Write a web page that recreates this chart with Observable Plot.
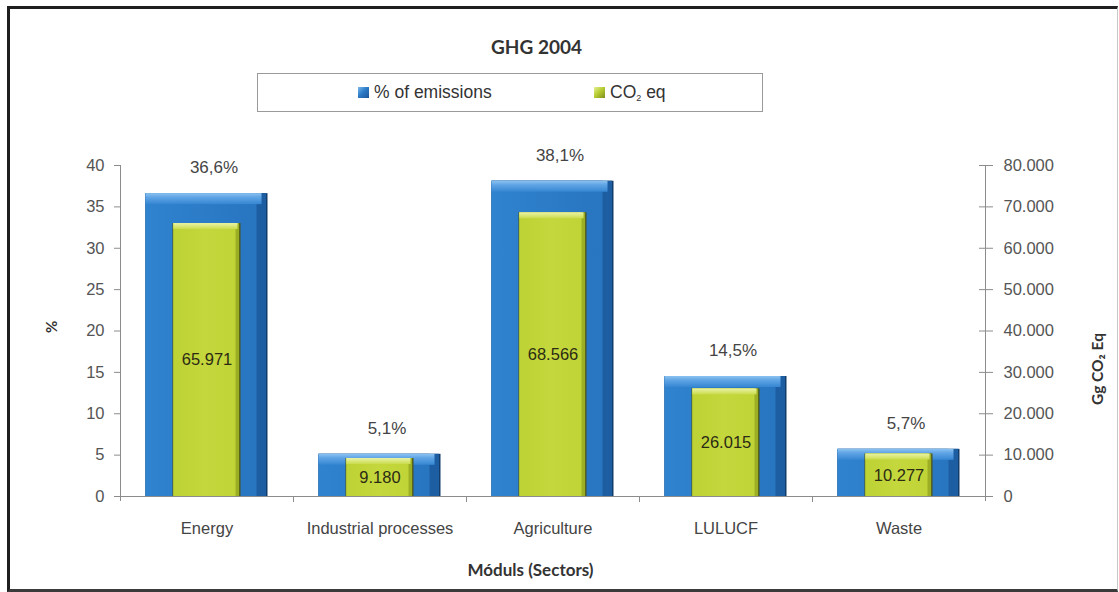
<!DOCTYPE html>
<html><head><meta charset="utf-8">
<script src="https://cdn.jsdelivr.net/npm/d3@7"></script>
<script src="https://cdn.jsdelivr.net/npm/@observablehq/plot@0.6"></script>
<style>
html,body{margin:0;padding:0;background:#fff;}
#wrap{position:relative;width:1119px;height:592px;overflow:hidden;background:#fff;}
#wrap svg{position:absolute;left:0;top:0;}
#frame{position:absolute;left:7px;top:6px;width:1111px;height:586px;box-sizing:border-box;border-left:3px solid #1f1f1f;border-top:3px solid #1f1f1f;border-bottom:3px solid #3a3a3a;border-right:1px solid #c8c8c8;pointer-events:none;}
#legend{position:absolute;left:257px;top:73px;width:506px;height:39px;box-sizing:border-box;border:1px solid #9a9a9a;background:#fff;font-family:"Liberation Sans",Arial,sans-serif;font-size:17.5px;color:#333;}
.item{position:absolute;top:0;height:37px;display:flex;align-items:center;white-space:nowrap;}
.sw{width:11px;height:11px;margin-right:5px;box-sizing:border-box;}
sub{font-size:9px;vertical-align:-3px;}
</style></head>
<body>
<div id="wrap">
  <div id="legend"></div>
  <div id="frame"></div>
</div>
<script>
// ---- data ----
const sectors = ["Energy", "Industrial processes", "Agriculture", "LULUCF", "Waste"];
const pctEmissions = [36.6, 5.1, 38.1, 14.5, 5.7];
const co2Eq = [65971, 9180, 68566, 26015, 10277];
const pctTicks = [0, 5, 10, 15, 20, 25, 30, 35, 40];
const co2Ticks = [0, 10000, 20000, 30000, 40000, 50000, 60000, 70000, 80000];
const seriesNames = ["% of emissions", "CO<sub>2</sub> eq"];

// ---- setup ----
const ratio = co2Ticks[co2Ticks.length - 1] / pctTicks[pctTicks.length - 1];
const data = sectors.map((s, i) => ({sector: s, pct: pctEmissions[i], co2: co2Eq[i]}));
const loc = d3.formatLocale({decimal: ",", thousands: ".", grouping: [3], currency: ["", ""]});
const fmtInt = loc.format(",d");
const fmtPct = loc.format(".1f");

const W = 1119, H = 592, mL = 120, mR = 134, mT = 165, mB = 96;
const band = (W - mL - mR) / sectors.length;
const half = band / 2;
const blueInset = 25.5, greenInset = 52.5;
const font = "'Liberation Sans', Arial, sans-serif";
const boldFont = "Lato, 'Open Sans', sans-serif";
const axisColor = "#8c8c8c";
const tickText = "#555";

const yPct = d => d.pct;
const yCo2 = d => d.co2 / ratio;

const svg = Plot.plot({
  width: W, height: H,
  marginLeft: mL, marginRight: mR, marginTop: mT, marginBottom: mB,
  style: {fontFamily: font, background: "transparent", overflow: "visible"},
  x: {type: "band", domain: sectors, padding: 0, axis: null},
  y: {domain: [0, 40]},
  marks: [
    // axis lines
    Plot.ruleY([0], {stroke: axisColor}),
    Plot.ruleX([sectors[0]], {x: d => d, dx: -half, insetBottom: -5, stroke: axisColor}),
    Plot.ruleX([sectors[sectors.length - 1]], {x: d => d, dx: half, insetBottom: -5, stroke: axisColor}),
    Plot.ruleX(sectors.slice(1), {x: d => d, dx: -half, insetTop: H - mT - mB, insetBottom: -6, stroke: axisColor}),
    // left axis
    Plot.axisY(pctTicks, {anchor: "left", tickSize: 6, tickPadding: 10, fontSize: 16.5, stroke: axisColor, fill: tickText, label: null}),
    // right axis
    Plot.axisY(co2Ticks.map(v => v / ratio), {anchor: "right", tickSize: 14, dx: -7, tickPadding: 11, fontSize: 16.5,
      stroke: axisColor, fill: tickText, label: null, tickFormat: v => fmtInt(Math.round(v * ratio))}),
    // x labels
    Plot.axisX({tickSize: 0, tickPadding: 26, fontSize: 16.5, fill: "#444", label: null}),

    // blue bars (bevelled)
    Plot.barY(data, {x: "sector", y: yPct, insetLeft: blueInset, insetRight: blueInset, fill: "#143c6a"}),
    Plot.barY(data, {x: "sector", y: yPct, insetLeft: blueInset, insetRight: blueInset + 1.5, fill: "#1d5ea3"}),
    Plot.barY(data, {x: "sector", y: yPct, insetLeft: blueInset, insetRight: blueInset + 11, fill: "url(#blueFace)"}),
    Plot.barY(data, {x: "sector", y1: yPct, y2: yPct, insetBottom: -11, insetLeft: blueInset, insetRight: blueInset + 6, fill: "url(#blueTop)"}),

    // green bars (bevelled)
    Plot.barY(data, {x: "sector", y: yCo2, insetLeft: greenInset, insetRight: greenInset, fill: "#46521a"}),
    Plot.barY(data, {x: "sector", y: yCo2, insetLeft: greenInset + 0.8, insetRight: greenInset + 1.3, fill: "#9caf24"}),
    Plot.barY(data, {x: "sector", y: yCo2, insetLeft: greenInset + 0.8, insetRight: greenInset + 5, fill: "url(#greenFace)"}),
    Plot.barY(data, {x: "sector", y1: yCo2, y2: yCo2, insetBottom: -6, insetLeft: greenInset + 0.8, insetRight: greenInset + 3, fill: "url(#greenTop)"}),

    // labels
    Plot.text(data, {x: "sector", y: yPct, text: d => fmtPct(d.pct) + "%", dy: -26, dx: 7, fontSize: 17, fill: "#444"}),
    Plot.text(data, {x: "sector", y: d => d.co2 / ratio / 2, text: d => fmtInt(d.co2), fontSize: 16.5, fill: "#2b2b14"}),

    // titles
    Plot.text(["GHG 2004"], {text: d => d, frameAnchor: "top", lineAnchor: "middle", dx: 536 - (mL + W - mR) / 2, dy: 47 - mT,
      fontSize: 19, fontWeight: "bold", fontFamily: boldFont, fill: "#333"}),
    Plot.text(["Móduls (Sectors)"], {text: d => d, frameAnchor: "bottom", lineAnchor: "middle", dx: 530 - (mL + W - mR) / 2, dy: 74,
      fontSize: 17, fontWeight: "bold", fontFamily: boldFont, fill: "#333"}),
    Plot.text(["%"], {text: d => d, frameAnchor: "left", lineAnchor: "middle", dx: -68, dy: 2, rotate: -90,
      fontSize: 15, fontWeight: "bold", fontFamily: boldFont, fill: "#333"}),
    Plot.text(["Gg CO₂ Eq"], {text: d => d, frameAnchor: "right", lineAnchor: "middle", dx: 113, dy: 2, rotate: -90,
      fontSize: 15.5, fontWeight: "bold", fontFamily: boldFont, fill: "#333"})
  ]
});

// gradients for the bevel look
const defs = d3.select(svg).insert("defs", ":first-child");
function grad(id, x2, y2, stops) {
  const g = defs.append("linearGradient").attr("id", id).attr("x1", 0).attr("y1", 0).attr("x2", x2).attr("y2", y2);
  stops.forEach(([o, c]) => g.append("stop").attr("offset", o).attr("stop-color", c));
}
grad("blueFace", 1, 0, [[0, "#2f83cf"], [0.5, "#2c7cc8"], [1, "#2875c0"]]);
grad("blueTop", 0, 1, [[0, "#8cc3f0"], [0.35, "#62a6e6"], [1, "#3586d2"]]);
grad("greenFace", 1, 0, [[0, "#bdd235"], [0.5, "#c4d73c"], [1, "#c0d438"]]);
grad("greenTop", 0, 1, [[0, "#eaf3a8"], [1, "#cbdc4c"]]);

document.getElementById("wrap").prepend(svg);

// legend
const legend = document.getElementById("legend");
const swatches = [
  "linear-gradient(135deg,#7db8ec 0%,#2c7cc8 45%,#1a5598 100%)",
  "linear-gradient(135deg,#e6f09a 0%,#b9cd33 45%,#7f8f1c 100%)"
];
const lefts = [100, 336];
seriesNames.forEach((n, i) => {
  const it = document.createElement("div");
  it.className = "item";
  it.style.left = lefts[i] + "px";
  it.innerHTML = `<div class="sw" style="background:${swatches[i]}"></div><span>${n}</span>`;
  legend.appendChild(it);
});
</script>
</body></html>
